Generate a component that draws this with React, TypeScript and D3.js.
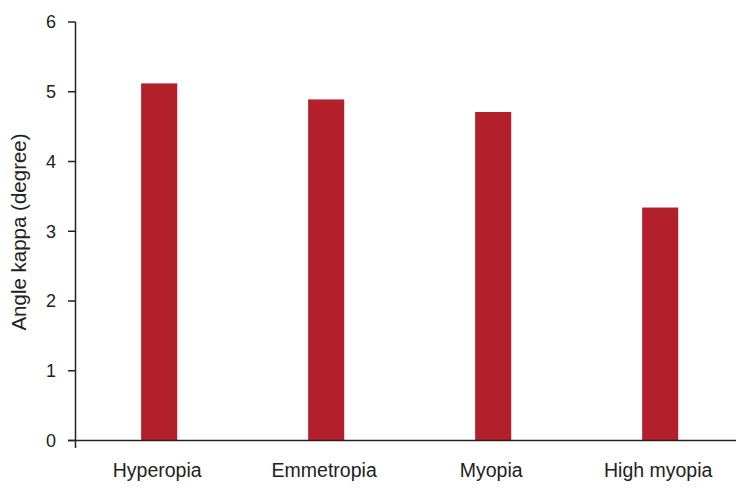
import React from "react";
import * as d3 from "d3";

const categories = ["Hyperopia", "Emmetropia", "Myopia", "High myopia"];
const values = [5.12, 4.89, 4.71, 3.34];
const yTicks = [0, 1, 2, 3, 4, 5, 6];
const yTitle = "Angle kappa (degree)";

export default function App() {
  const W = 743, H = 500;
  const axisX = 75.5;
  const xEnd = 736;
  const y = d3.scaleLinear().domain([0, 6]).range([440.5, 22]);
  const x = d3
    .scaleBand<string>()
    .domain(categories)
    .range([76, 736])
    .paddingInner(0.784)
    .paddingOuter(0.368)
    .align(0.53);
  const font = "'Liberation Sans', Arial, Helvetica, sans-serif";
  return (
    <svg
      width={W}
      height={H}
      style={{ position: "absolute", left: 0, top: 0, background: "#fff" }}
      fontFamily={font}
    >
      {categories.map((c, i) => (
        <rect
          key={c}
          x={x(c)}
          y={y(values[i])}
          width={x.bandwidth()}
          height={y(0) - y(values[i])}
          fill="#b31f2b"
        />
      ))}
      <line x1={axisX} x2={axisX} y1={y(6)} y2={448} stroke="#222" strokeWidth={1.5} />
      <line x1={68} x2={xEnd} y1={y(0)} y2={y(0)} stroke="#222" strokeWidth={1.5} />
      {yTicks.map((t) => (
        <g key={t}>
          <line x1={68} x2={axisX} y1={y(t)} y2={y(t)} stroke="#222" strokeWidth={1.5} />
          <text
            x={56}
            y={y(t)}
            dy="0.36em"
            textAnchor="end"
            fontSize={18}
            fill="#222"
          >
            {t}
          </text>
        </g>
      ))}
      {categories.map((c) => (
        <text
          key={c}
          x={(x(c) as number) + x.bandwidth() / 2 - 2}
          y={477}
          textAnchor="middle"
          fontSize={19.5}
          fill="#222"
        >
          {c}
        </text>
      ))}
      <text
        transform={`translate(26, 232) rotate(-90)`}
        textAnchor="middle"
        fontSize={20.5}
        fill="#222"
      >
        {yTitle}
      </text>
    </svg>
  );
}
